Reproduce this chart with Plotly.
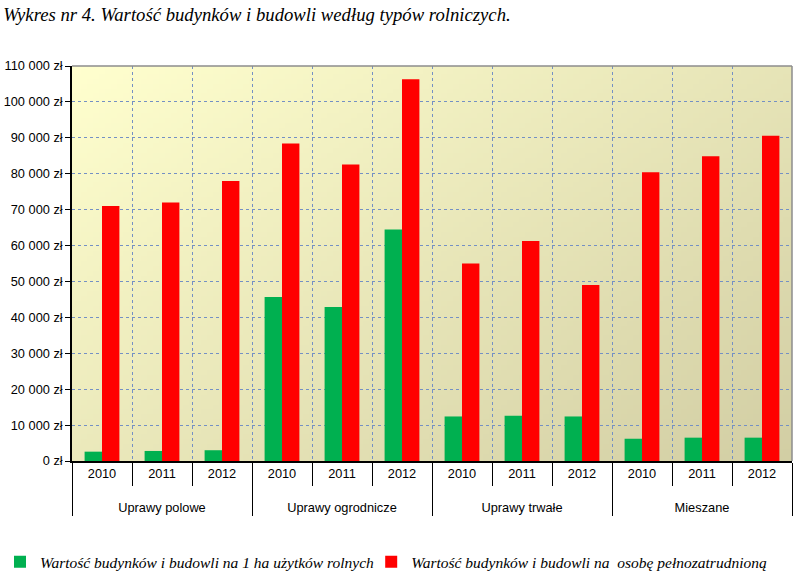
import base64, struct, zlib
import plotly.graph_objects as go

groups = ["Uprawy polowe", "Uprawy ogrodnicze", "Uprawy trwałe", "Mieszane"]
years = ["2010", "2011", "2012"]
green_vals = [2600, 2800, 3000, 45700, 42900, 64500, 12400, 12600, 12400, 6200, 6500, 6500]
red_vals = [71000, 72000, 78000, 88400, 82600, 106300, 55000, 61300, 49000, 80400, 84900, 90600]
green_name = "Wartość budynków i budowli na 1 ha użytków rolnych"
red_name = "Wartość budynków i budowli na  osobę pełnozatrudnioną"
title_text = "Wykres nr 4. Wartość budynków i budowli według typów rolniczych."
y_ticks = list(range(0, 110001, 10000))
y_ticktext = [(f"{v:,}".replace(",", " ") + " zł") for v in y_ticks]

x_level0 = [g for g in groups for _ in years]
# trailing blank line gives the year row the reference's height
x_level1 = [y + "<br> " for _ in groups for y in years]


def gradient_png(w, h, c0, c1):
    rows = b""
    for j in range(h):
        row = b"\x00"
        for i in range(w):
            t = (i / (w - 1) * 0.55 + j / (h - 1) * 0.45)
            px = bytes(int(round(c0[k] + (c1[k] - c0[k]) * t)) for k in range(3))
            row += px
        rows += row

    def chunk(tag, data):
        c = struct.pack(">I", len(data)) + tag + data
        return c + struct.pack(">I", zlib.crc32(tag + data) & 0xffffffff)

    png = b"\x89PNG\r\n\x1a\n"
    png += chunk(b"IHDR", struct.pack(">IIBBBBB", w, h, 8, 2, 0, 0, 0))
    png += chunk(b"IDAT", zlib.compress(rows, 9))
    png += chunk(b"IEND", b"")
    return "data:image/png;base64," + base64.b64encode(png).decode()


bg = gradient_png(120, 80, (255, 255, 206), (210, 206, 164))

legend_font = dict(family="Liberation Serif, Times New Roman", size=15.5, style="italic")

fig = go.Figure()
fig.add_trace(go.Bar(x=[x_level0, x_level1], y=green_vals, name=green_name, showlegend=True,
                     marker=dict(color="#00B050", line=dict(width=0))))
fig.add_trace(go.Bar(x=[x_level0, x_level1], y=red_vals, name=red_name, showlegend=True,
                     marker=dict(color="#FF0000", line=dict(width=0)), legend="legend2"))

fig.update_layout(
    width=800, height=576,
    showlegend=True,
    margin=dict(l=72, r=8, t=66, b=115),
    paper_bgcolor="white",
    plot_bgcolor="rgba(0,0,0,0)",
    barmode="group",
    bargap=0.42,
    bargroupgap=0,
    font=dict(family="Liberation Sans, Arial", size=12.8, color="#000"),
    title=dict(text=title_text, x=0.004, xanchor="left", xref="container",
               y=0.975, yanchor="middle", yref="container",
               font=dict(family="Liberation Serif, Times New Roman", size=18.7, style="italic")),
    legend=dict(visible=True, orientation="h", xref="container", yref="container",
                x=0.0, y=0.024, xanchor="left", yanchor="middle",
                bgcolor="rgba(0,0,0,0)", font=legend_font, itemwidth=30),
    legend2=dict(visible=True, orientation="h", xref="container", yref="container",
                 x=0.464, y=0.024, xanchor="left", yanchor="middle",
                 bgcolor="rgba(0,0,0,0)", font=legend_font, itemwidth=30),
    images=[dict(source=bg, xref="paper", yref="paper", x=0, y=1, sizex=1, sizey=1,
                 sizing="stretch", layer="below", xanchor="left", yanchor="top")],
    shapes=[
        dict(type="line", xref="paper", yref="paper", x0=0, x1=1, y0=1, y1=1,
             line=dict(color="#8c8c8c", width=1.5)),
        dict(type="line", xref="paper", yref="paper", x0=1, x1=1, y0=0, y1=1,
             line=dict(color="#8c8c8c", width=1.5)),
    ],
)

fig.update_yaxes(range=[0, 110000], tickvals=y_ticks, ticktext=y_ticktext,
                 automargin=False,
                 showline=True, linecolor="#000", linewidth=1.5,
                 ticks="outside", ticklen=5, tickcolor="#000",
                 showgrid=True, gridcolor="#7490c4", griddash="dot", gridwidth=1,
                 zeroline=False, tickfont=dict(size=12.8))
fig.update_xaxes(type="multicategory", automargin=False,
                 showline=True, linecolor="#000", linewidth=1.5,
                 ticks="outside", ticklen=23, tickcolor="#000", tickson="boundaries",
                 showgrid=True, gridcolor="#7490c4", griddash="dot", gridwidth=1,
                 showdividers=True, dividercolor="#000", dividerwidth=1,
                 tickfont=dict(size=12.8))

fig.write_html("out.html")
